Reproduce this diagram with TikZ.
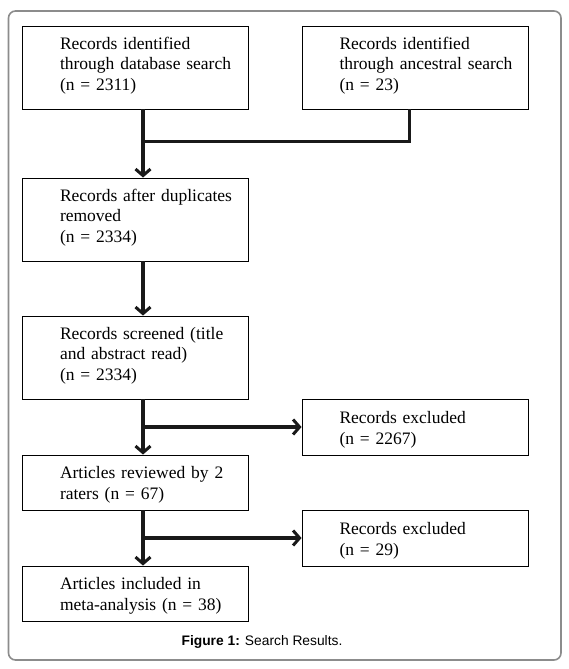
\documentclass[tikz,border=0pt]{standalone}
\usepackage{fontspec}
\setmainfont{Liberation Serif}
\newfontfamily\capfont{Liberation Sans}
\usetikzlibrary{arrows.meta}
\tikzset{
  box/.style={draw=black, line width=0.9pt, rectangle, inner xsep=0pt, inner ysep=0pt,
    minimum width=226pt, text width=226pt, align=left,
    font=\fontsize{17.5}{20.5}\selectfont},
  conn/.style={draw=black!90, line width=3.2pt,
    -{Straight Barb[length=6.5pt,width=15pt,line width=3pt]}},
  joinline/.style={draw=black!90, line width=3.2pt},
  frame/.style={draw=black!45, line width=1.6pt, rounded corners=7pt}
}
% #1 = vertical raise of the text block
\newcommand{\boxlines}[2]{\hspace*{37.5pt}\smash{\raisebox{#1}{\begin{tabular}[c]{@{}l@{}}#2\end{tabular}}}}
\begin{document}
\begin{tikzpicture}[x=1pt,y=-1pt]
\useasboundingbox (0,0) rectangle (568,669);
\draw[frame] (8.5,11) rectangle (561,660);

\node[box, minimum height=83pt] (b1) at (135.5,67.5) {\boxlines{-2.4pt}{Records identified\\through database search\\(n = 2311)}};
\node[box, minimum height=83pt] (b2) at (415,67.5) {\boxlines{-2.4pt}{Records identified\\through ancestral search\\(n = 23)}};
\node[box, minimum height=83pt] (b3) at (135.5,219.5) {\boxlines{-2.4pt}{Records after duplicates\\removed\\(n = 2334)}};
\node[box, minimum height=83pt] (b4) at (135.5,357.5) {\boxlines{-2.4pt}{Records screened (title\\and abstract read)\\(n = 2334)}};
\node[box, minimum height=56pt] (b5) at (415,427) {\boxlines{-7pt}{Records excluded\\(n = 2267)}};
\node[box, minimum height=55pt] (b6) at (135.5,482.5) {\boxlines{-6.5pt}{Articles reviewed by 2\\raters (n = 67)}};
\node[box, minimum height=56pt] (b7) at (415,538) {\boxlines{-7pt}{Records excluded\\(n = 29)}};
\node[box, minimum height=55pt] (b8) at (135.5,593.5) {\boxlines{-6.5pt}{Articles included in\\meta-analysis (n = 38)}};

\coordinate (ax) at (143,0);
\coordinate (bx) at (409.5,0);
\coordinate (j1) at (143,141.5);

\draw[conn] (b1.south -| ax) -- (b3.north -| ax);
\draw[joinline] (b2.south -| bx) |- (j1);
\draw[conn] (b3.south -| ax) -- (b4.north -| ax);
\draw[conn] (b4.south -| ax) -- (b6.north -| ax);
\draw[conn] (b5.west -| ax) -- (b5.west);
\draw[conn] (b6.south -| ax) -- (b8.north -| ax);
\draw[conn] (b7.west -| ax) -- (b7.west);

\node[font=\capfont\fontsize{13.8}{16}\selectfont, inner sep=0pt] (cap) at (262,642) {\textbf{Figure 1:} Search Results.};
\end{tikzpicture}
\end{document}
